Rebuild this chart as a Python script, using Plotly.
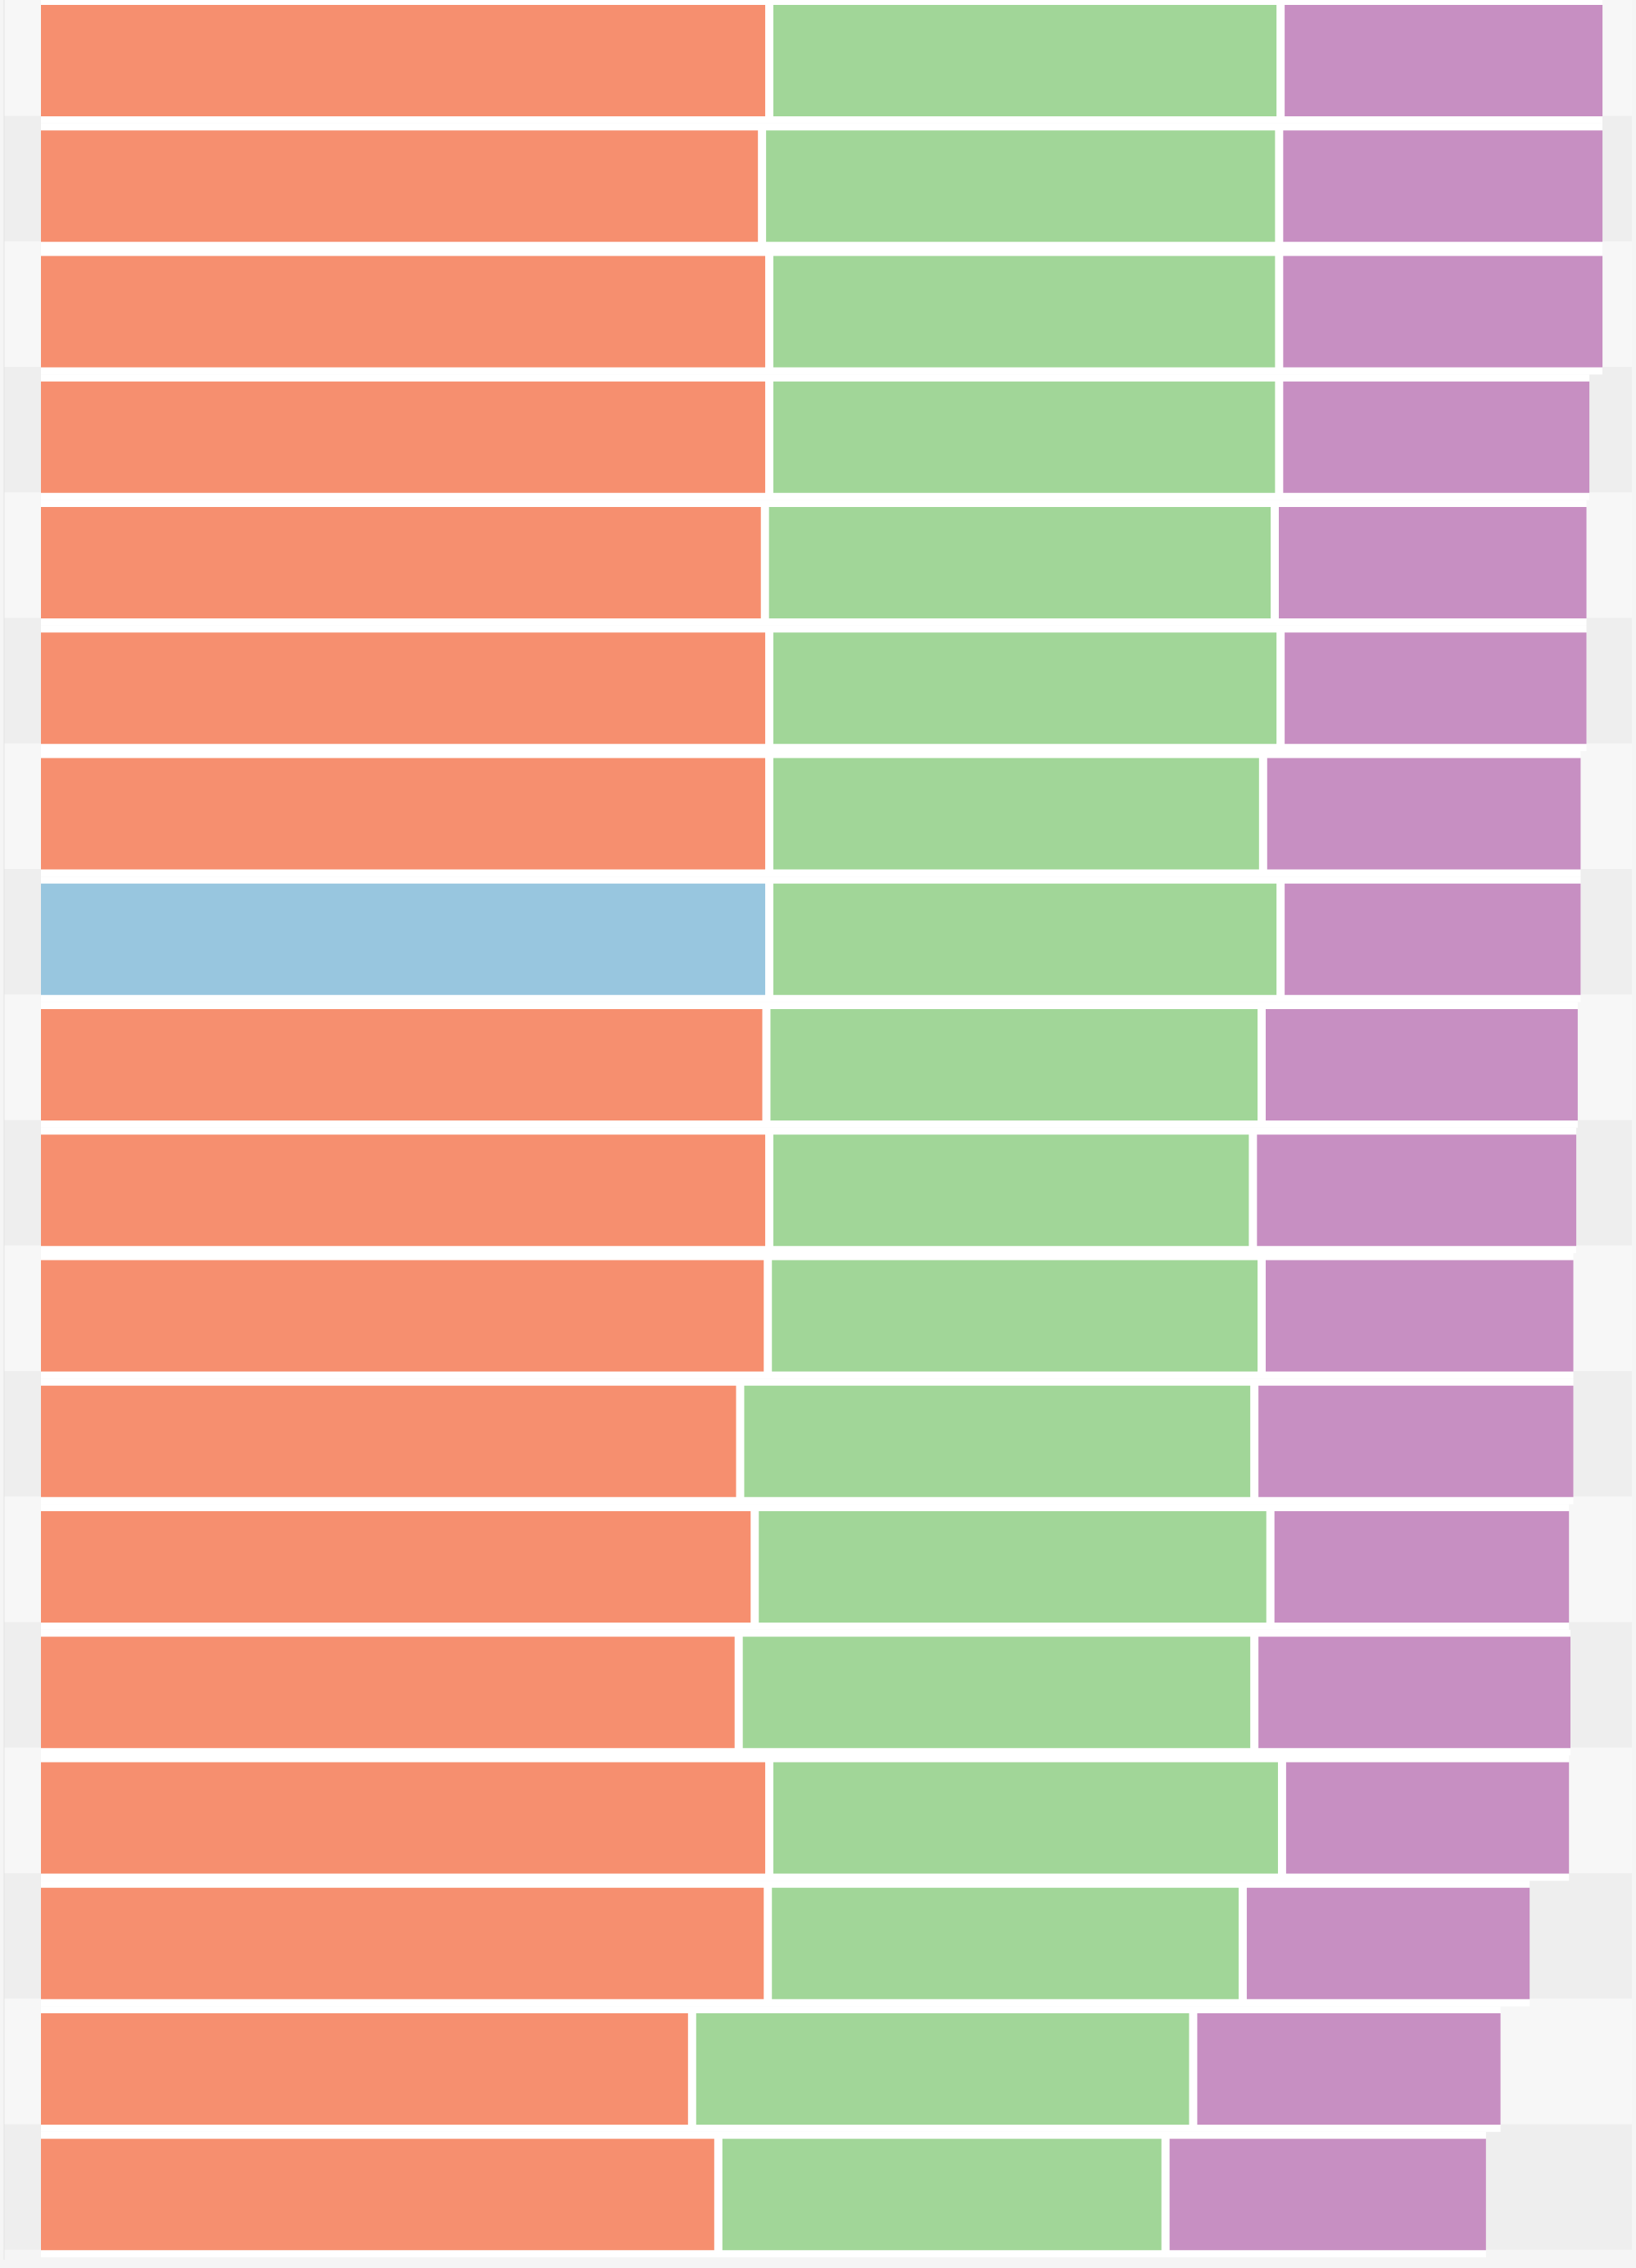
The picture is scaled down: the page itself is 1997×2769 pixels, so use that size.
import plotly.graph_objects as go

# Row labels (top to bottom)
rows = ["A", "B", "C", "D", "E", "F", "G", "H", "I",
        "J", "K", "L", "M", "N", "O", "P", "Q", "R"]

# Segment values for each row
part_one = [50.0, 49.5, 50.0, 50.0, 49.7, 50.0, 50.0, 50.0, 49.8,
            50.0, 49.9, 48.0, 49.0, 47.9, 50.0, 49.9, 44.7, 46.5]
part_two = [35.1, 35.5, 35.0, 35.0, 35.0, 35.1, 33.9, 35.1, 34.0,
            33.2, 33.9, 35.3, 35.4, 35.4, 35.2, 32.6, 34.4, 30.7]
part_three = [22.1, 22.2, 22.2, 21.3, 21.4, 21.0, 21.8, 20.6, 21.7,
              22.2, 21.4, 21.9, 20.5, 21.7, 19.7, 19.7, 21.1, 22.0]

# The highlighted row gets a different colour on its first segment
highlight_row = "H"

ORANGE = "#f68f6f"
BLUE = "#98c6df"
GREEN = "#a1d698"
PURPLE = "#c78fc2"

first_colors = [BLUE if r == highlight_row else ORANGE for r in rows]
BAR_W = 0.887   # bar thickness as a share of the row
SEP = 0.28      # half of the white separator between segments, in x units

n = len(rows)
zeros = [0] * n
# Segment starts/lengths derived from the values, leaving a thin white seam
one_len = [a - SEP for a in part_one]
two_base = [a + SEP for a in part_one]
two_len = [b - 2 * SEP for b in part_two]
three_base = [a + b + SEP for a, b in zip(part_one, part_two)]
three_len = [c - SEP for c in part_three]
totals = [a + b + c for a, b, c in zip(part_one, part_two, part_three)]

no_line = dict(width=0)
fig = go.Figure()
# White backing for each row so the seams and the gaps between rows read as white
fig.add_trace(go.Bar(y=rows, x=totals, base=zeros, orientation="h", width=1.0,
                     marker=dict(color="white", line=no_line)))
fig.add_trace(go.Bar(y=rows, x=one_len, base=zeros, orientation="h", width=BAR_W,
                     marker=dict(color=first_colors, line=no_line)))
fig.add_trace(go.Bar(y=rows, x=two_len, base=two_base, orientation="h", width=BAR_W,
                     marker=dict(color=GREEN, line=no_line)))
fig.add_trace(go.Bar(y=rows, x=three_len, base=three_base, orientation="h",
                     width=BAR_W, marker=dict(color=PURPLE, line=no_line)))

# Alternating row bands behind the bars
shapes = []
for i in range(n):
    shapes.append(dict(
        type="rect", layer="below", xref="paper", yref="y",
        x0=0.0025, x1=0.9975, y0=i - 0.56, y1=i + 0.44,
        fillcolor="#f7f7f7" if i % 2 == 0 else "#eeeeee",
        line=dict(width=0),
    ))
shapes.append(dict(type="line", layer="below", xref="paper", yref="paper",
                   x0=0.0025, x1=0.0025, y0=0, y1=1,
                   line=dict(color="#e4e4e4", width=1)))

fig.update_layout(
    width=1997, height=2769,
    margin=dict(l=0, r=0, t=0, b=10),
    barmode="overlay",
    showlegend=False,
    paper_bgcolor="#f5f5f5", plot_bgcolor="#f5f5f5",
    shapes=shapes,
    xaxis=dict(range=[-2.812, 109.5], visible=False, fixedrange=True),
    yaxis=dict(categoryorder="array", categoryarray=rows,
               range=[n - 0.48, -0.483], visible=False, fixedrange=True),
)

fig.write_html("out.html")
